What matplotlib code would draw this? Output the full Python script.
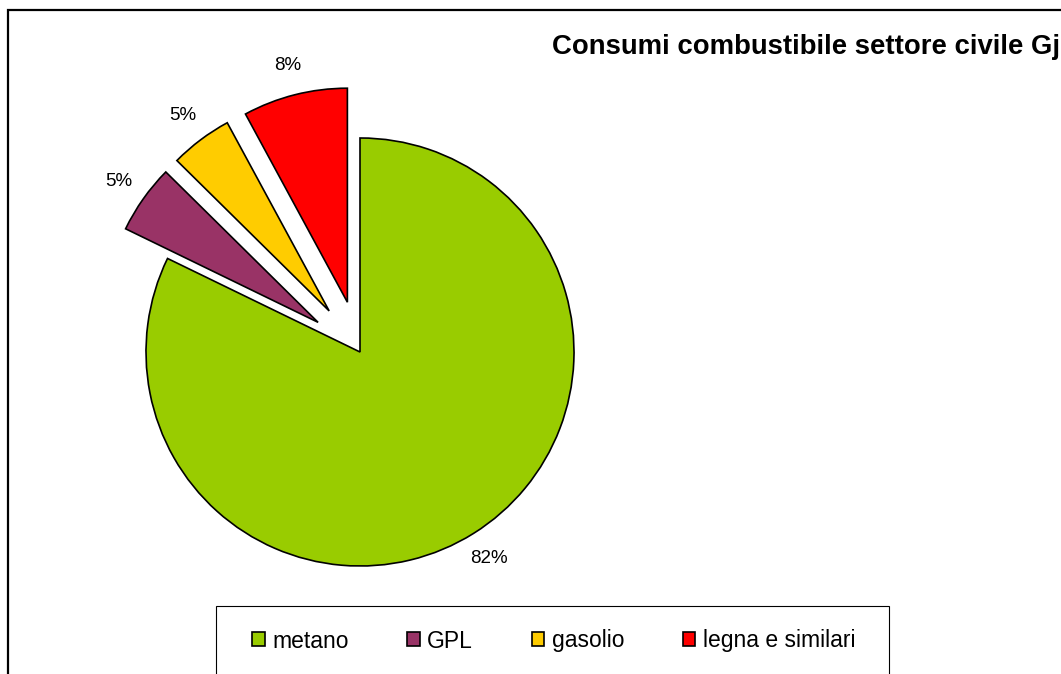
import matplotlib
matplotlib.use("Agg")
import matplotlib.pyplot as plt
from matplotlib.patches import Rectangle

plt.rcParams['font.family'] = ['Liberation Sans', 'DejaVu Sans']

categories = ["metano", "GPL", "gasolio", "legna e similari"]
values = [82.2, 5.2, 4.7, 7.9]
colors = ["#99CC00", "#993366", "#FFCC00", "#FF0000"]
explode = [0.0, 0.24, 0.24, 0.24]
title = "Consumi combustibile settore civile Gj"

W, H = 1061, 674
fig = plt.figure(figsize=(W / 100, H / 100), dpi=100)

# pie axes: centre at (360, 352) px from top-left, radius 214 px
R = 214.0
cx, cy = 360.0, H - 352.0
ax_l, ax_r = 60.0, 660.0
ax_b, ax_t = 20.0, 660.0
ax = fig.add_axes([ax_l / W, ax_b / H, (ax_r - ax_l) / W, (ax_t - ax_b) / H])
wedges, texts, autotexts = ax.pie(
    values, colors=colors, explode=explode, startangle=90, counterclock=False,
    autopct='%.0f%%', pctdistance=1.14, radius=1.0,
    wedgeprops=dict(edgecolor='black', linewidth=1.2),
    textprops=dict(fontsize=13.5, color='black'))
for w in wedges:
    w.set_clip_on(False)
ax.set_aspect('auto')
ax.set_xlim((ax_l - cx) / R, (ax_r - cx) / R)
ax.set_ylim((ax_b - cy) / R, (ax_t - cy) / R)
ax.axis('off')

# outer frame (right and bottom edges fall outside the image)
fig.patches.append(Rectangle((7.5 / W, -0.1), 1.2, 1 - 10.5 / H + 0.1,
                             transform=fig.transFigure, fill=False,
                             edgecolor='black', linewidth=1.6, clip_on=False))

# title
fig.text(552 / W, 1 - 53.5 / H, title, fontsize=19.8, fontweight='bold',
         ha='left', va='baseline')

# legend box
fig.patches.append(Rectangle((216 / W, -0.1), (889 - 216) / W, 0.1 + 1 - 606 / H,
                             transform=fig.transFigure, fill=False,
                             edgecolor='black', linewidth=0.8, clip_on=False))
leg = fig.legend(wedges, categories, ncol=4, frameon=False,
                 loc='center left', bbox_to_anchor=(252 / W, 1 - 641 / H),
                 fontsize=16.5, handlelength=0.55, handleheight=0.55,
                 handletextpad=0.33, columnspacing=2.55, borderpad=0,
                 borderaxespad=0)

fig.savefig("out.png", dpi=100)
